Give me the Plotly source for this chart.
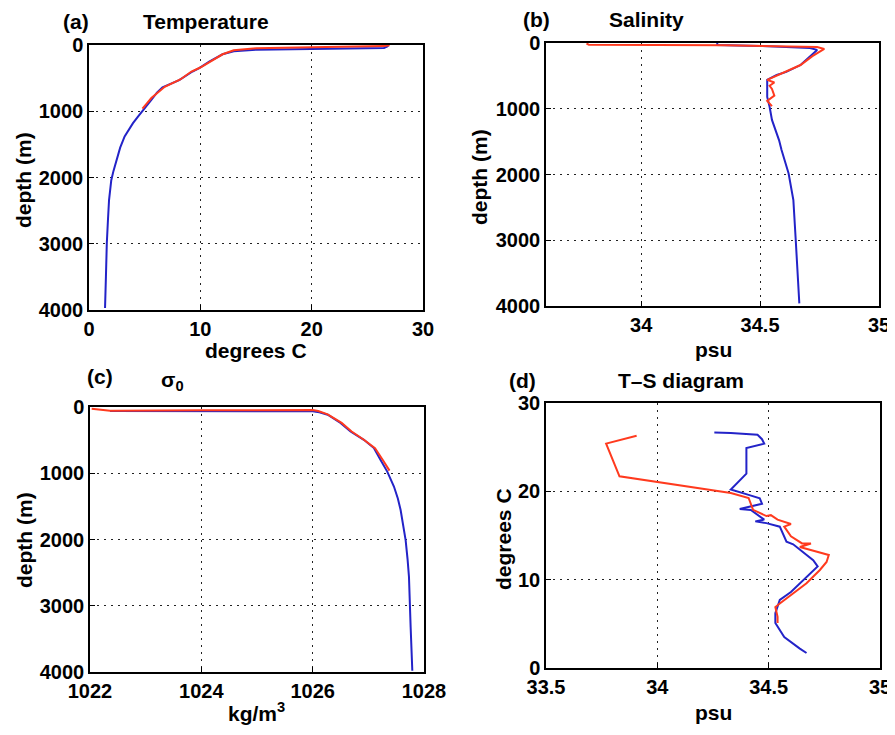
import plotly.graph_objects as go

# ---------------- data ----------------
# (a) Temperature profiles
depth_T_blue = [0, 20, 45, 60, 70, 95, 140, 250, 350, 400, 530, 640, 720, 830, 980, 1080, 1180, 1280, 1380, 1550, 1735, 1900, 2040, 2200, 2340, 2650, 2990, 3500, 3970]
T_blue = [26.9, 26.8, 26.5, 20.0, 15.0, 13.0, 12.0, 10.8, 9.9, 9.3, 8.1, 6.6, 6.1, 5.6, 4.85, 4.4, 3.95, 3.55, 3.2, 2.8, 2.45, 2.2, 2.0, 1.9, 1.8, 1.7, 1.6, 1.52, 1.44]
depth_T_red = [5, 15, 35, 50, 80, 140, 250, 340, 400, 520, 630, 720, 800, 880, 960]
T_red = [27.0, 26.5, 20.0, 15.0, 13.0, 12.0, 10.9, 10.0, 9.2, 8.2, 6.8, 6.2, 5.6, 5.2, 4.8]

# (b) Salinity profiles
depth_S_blue = [0, 30, 45, 75, 105, 200, 335, 440, 486, 560, 670, 820, 970, 1170, 1480, 1625, 1985, 2390, 3000, 3960]
S_blue = [34.32, 34.32, 34.50, 34.71, 34.74, 34.71, 34.67, 34.61, 34.57, 34.53, 34.53, 34.53, 34.54, 34.55, 34.58, 34.59, 34.62, 34.64, 34.65, 34.665]
depth_S_red = [10, 25, 35, 60, 90, 200, 335, 486, 560, 600, 650, 700, 800, 880, 920, 960]
S_red = [33.77, 33.78, 34.35, 34.74, 34.77, 34.72, 34.67, 34.58, 34.53, 34.56, 34.54, 34.55, 34.56, 34.53, 34.54, 34.55]

# (c) Potential density sigma_0 profiles
depth_D_blue = [60, 65, 80, 116, 240, 370, 495, 620, 800, 975, 1200, 1380, 1555, 1800, 2010, 2300, 2565, 3320, 3980]
D_blue = [1022.36, 1026.0, 1026.12, 1026.27, 1026.5, 1026.68, 1026.92, 1027.1, 1027.22, 1027.34, 1027.46, 1027.53, 1027.58, 1027.63, 1027.67, 1027.705, 1027.73, 1027.76, 1027.79]
depth_D_red = [25, 55, 50, 45, 60, 110, 240, 370, 495, 620, 800, 960]
D_red = [1022.03, 1022.36, 1024.0, 1026.0, 1026.1, 1026.27, 1026.52, 1026.7, 1026.92, 1027.12, 1027.26, 1027.38]

# (d) T-S diagram
S_ts_blue = [34.256, 34.33, 34.45, 34.47, 34.48, 34.40, 34.40, 34.33, 34.41, 34.46, 34.47, 34.44, 34.37, 34.42, 34.48, 34.44, 34.49, 34.55, 34.58, 34.61, 34.65, 34.70, 34.72, 34.66, 34.60, 34.55, 34.53, 34.53, 34.57, 34.64, 34.67]
T_ts_blue = [26.65, 26.6, 26.4, 25.9, 25.4, 24.9, 22.0, 20.2, 19.6, 19.2, 18.6, 18.4, 18.0, 17.9, 16.8, 16.6, 16.4, 16.0, 14.3, 14.0, 13.2, 12.2, 11.5, 10.0, 8.6, 7.7, 6.2, 5.1, 3.5, 2.2, 1.7]
S_ts_red = [33.907, 33.77, 33.83, 34.33, 34.41, 34.43, 34.49, 34.51, 34.54, 34.60, 34.57, 34.60, 34.65, 34.69, 34.64, 34.77, 34.76, 34.73, 34.67, 34.61, 34.55, 34.53, 34.54, 34.54]
T_ts_red = [26.3, 25.4, 21.7, 19.8, 19.25, 17.9, 17.2, 17.3, 16.8, 16.3, 16.0, 14.9, 14.1, 14.1, 13.7, 12.8, 12.0, 11.1, 9.6, 8.5, 7.3, 6.9, 5.8, 5.1]

# tick values
depth_ticks = [0, 1000, 2000, 3000, 4000]
temp_ticks = [0, 10, 20, 30]
sal_ticks = [34, 34.5, 35]
dens_ticks = [1022, 1024, 1026, 1028]
ts_sal_ticks = [33.5, 34, 34.5, 35]
ts_temp_ticks = [0, 10, 20, 30]

BLUE = "#2323c8"
RED = "#ff3a1e"
FONT = "Liberation Sans, Arial, Helvetica, sans-serif"
OFF = 8                      # page body margin of the html page
W, H = 895 - OFF, 735 - OFF  # figure size

fig = go.Figure()

def add(x, y, color, xa, ya):
    fig.add_trace(go.Scatter(x=x, y=y, mode="lines", line=dict(color=color, width=2),
                             xaxis=xa, yaxis=ya, showlegend=False, hoverinfo="skip"))

add(T_blue, depth_T_blue, BLUE, "x", "y")
add(T_red, depth_T_red, RED, "x", "y")
add(S_blue, depth_S_blue, BLUE, "x2", "y2")
add(S_red, depth_S_red, RED, "x2", "y2")
add(D_blue, depth_D_blue, BLUE, "x3", "y3")
add(D_red, depth_D_red, RED, "x3", "y3")
add(S_ts_blue, T_ts_blue, BLUE, "x4", "y4")
add(S_ts_red, T_ts_red, RED, "x4", "y4")

tickfont = dict(family=FONT, size=20, color="black", weight="bold")

def axis(domain, rng, ticks, anchor):
    return dict(domain=domain, range=rng, tickvals=ticks, ticktext=[("%g" % t) for t in ticks],
                anchor=anchor, showline=True, mirror=True, linecolor="black", linewidth=1.5,
                ticks="inside", ticklen=5, tickcolor="black", tickwidth=1,
                showgrid=True, gridcolor="#222222", gridwidth=1.3, griddash="2px,5px",
                zeroline=False, tickfont=tickfont, fixedrange=True, automargin=False)

def px_x(a, b):
    return [(a - OFF) / W, (b - OFF) / W]

def px_y(top, bottom):
    return [1 - (bottom - OFF) / H, 1 - (top - OFF) / H]

fig.update_layout(
    width=W, height=H, margin=dict(l=0, r=0, t=0, b=0),
    paper_bgcolor="white", plot_bgcolor="white",
    xaxis=axis(px_x(89, 423), [0, 30], temp_ticks, "y"),
    yaxis=axis(px_y(45, 310), [4000, 0], depth_ticks, "x"),
    xaxis2=axis(px_x(546, 879), [33.6, 35], sal_ticks, "y2"),
    yaxis2=axis(px_y(43, 306), [4000, 0], depth_ticks, "x2"),
    xaxis3=axis(px_x(90, 424), [1022, 1028], dens_ticks, "y3"),
    yaxis3=axis(px_y(407, 672), [4000, 0], depth_ticks, "x3"),
    xaxis4=axis(px_x(546, 880), [33.5, 35], ts_sal_ticks, "y4"),
    yaxis4=axis(px_y(403, 668), [0, 30], ts_temp_ticks, "x4"),
)

labelfont = dict(family=FONT, size=21, color="black", weight="bold")

def note(text, x, y, angle=0):
    fig.add_annotation(text=text, x=(x - OFF) / W, y=1 - (y - OFF) / H, xref="paper", yref="paper",
                       showarrow=False, font=labelfont, textangle=angle,
                       xanchor="center", yanchor="middle")

# panel titles
note("(a)", 76, 22)
note("Temperature", 206, 22)
note("(b)", 536, 19)
note("Salinity", 646, 19)
note("(c)", 100, 376)
note("σ<sub>0</sub>", 172, 381)
note("(d)", 522, 381)
note("T–S diagram", 681, 381)

# axis titles
note("degrees C", 256, 350)
note("psu", 713, 349)
note("kg/m<sup>3</sup>", 256, 712)
note("psu", 713, 712)
note("depth (m)", 24, 180, -90)
note("depth (m)", 480, 177, -90)
note("depth (m)", 24, 540, -90)
note("degrees C", 503, 539, -90)

fig.write_html("out.html")
